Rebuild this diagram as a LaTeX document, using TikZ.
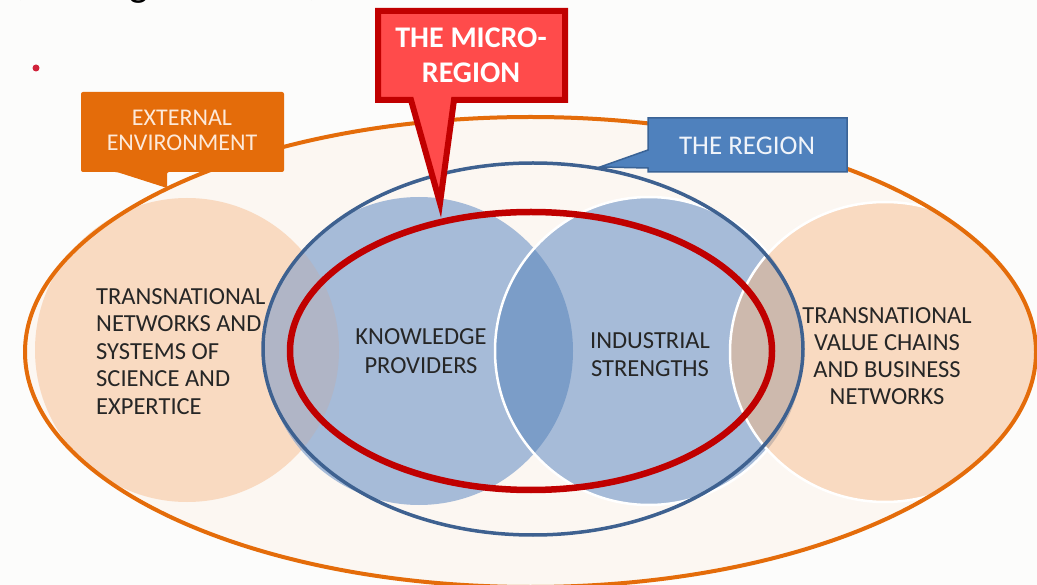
\documentclass[tikz,border=0pt]{standalone}
\usepackage{fontspec}
\setmainfont{Carlito}
\definecolor{bg}{HTML}{FCFCFB}
\definecolor{outerfill}{HTML}{FCF7F2}
\definecolor{orangeline}{HTML}{E46C0A}
\definecolor{peach}{HTML}{F9DAC1}
\definecolor{bluec}{HTML}{A6BBD8}
\definecolor{lens}{HTML}{7B9DC8}
\definecolor{graylap}{HTML}{B0B5C6}
\definecolor{brownlap}{HTML}{CDB9AD}
\definecolor{regionline}{HTML}{3E6190}
\definecolor{microline}{HTML}{C00000}
\definecolor{microfill}{HTML}{FF4B4B}
\definecolor{regionbox}{HTML}{4F81BD}
\definecolor{regionboxline}{HTML}{3A6396}
\definecolor{extbox}{HTML}{E46C0A}
\definecolor{exttext}{HTML}{FDE9D9}
\definecolor{regiontext}{HTML}{F0F4FA}
\definecolor{txt}{HTML}{262626}
\definecolor{bullet}{HTML}{D0223A}
\begin{document}
\begin{tikzpicture}[x=1pt,y=-1pt,
  body/.style={font=\fontsize{24.5}{27.5}\selectfont, text=txt, inner sep=0pt},
  calltext/.style={inner sep=0pt, align=center},
  frag/.style={font=\fontsize{40}{40}\selectfont, text=black, inner sep=0pt, anchor=base}]
\useasboundingbox (0,0) rectangle (1037,585);
\fill[bg] (0,0) rectangle (1037,585);
% title fragments cut off at top
\node[frag] (f1) at (22,-4) {,};
\node[frag] (f2) at (139,-3) {g};
\node[frag] (f3) at (313,-4) {,};
\fill[bullet] (36,68) circle[radius=3.5pt];
% outer environment ellipse fill
\fill[outerfill] (530.5,352) ellipse[x radius=505.5pt, y radius=235pt];
% left peach circle
\fill[peach] (187,350) circle[radius=152pt];
% blue circles
\fill[bluec] (419,351) circle[radius=154pt];
\fill[bluec] (649,351) circle[radius=154pt];
\begin{scope}
  \clip (419,351) circle[radius=154pt];
  \fill[lens] (649,351) circle[radius=154pt];
  \fill[graylap] (187,350) circle[radius=152pt];
\end{scope}
\draw[white, line width=2.5pt] (649,351) circle[radius=154pt];
% right peach, kept inside the outer ellipse
\begin{scope}
  \clip (530.5,352) ellipse[x radius=505.5pt, y radius=235pt];
  \fill[peach] (885,352) ellipse[x radius=155pt, y radius=150pt];
  \begin{scope}
    \clip (649,351) circle[radius=154pt];
    \fill[brownlap] (885,352) ellipse[x radius=155pt, y radius=150pt];
  \end{scope}
  \draw[white, line width=2.5pt] (885,352) ellipse[x radius=155pt, y radius=150pt];
\end{scope}
% outer orange outline
\draw[orangeline, line width=4pt] (530.5,352) ellipse[x radius=505.5pt, y radius=235pt];
% region outline
\draw[regionline, line width=3.5pt] (533,349) ellipse[x radius=270pt, y radius=186pt];
% micro-region ellipse
\draw[microline, line width=6.5pt] (531,351) ellipse[x radius=241pt, y radius=139pt];
% callouts
\fill[extbox, rounded corners=2pt] (81,92) -- (284,92) -- (284,172) -- (167,172) -- (167,188) -- (117,172) -- (81,172) -- cycle;
\node[calltext, text=exttext, font=\fontsize{24}{25}\selectfont, anchor=north] (ext) at (182,110) {EXTERNAL\\ENVIRONMENT};
\draw[regionboxline, fill=regionbox, line width=1.5pt] (648,118) -- (847,118) -- (847,172) -- (648,172) -- (648,168) -- (600,167) -- (648,150) -- cycle;
\node[calltext, text=regiontext, font=\fontsize{27}{27}\selectfont, anchor=north] (reg) at (747,137) {THE REGION};
\draw[microline, fill=microfill, line width=6pt, line join=miter] (378,11) -- (565,11) -- (565,100) -- (454,100) -- (440,203) -- (411,100) -- (378,100) -- cycle;
\node[calltext, text=white, font=\bfseries\fontsize{30}{34.5}\selectfont, anchor=north] (micro) at (471,28) {THE MICRO-\\REGION};
% texts
\node[body, align=left, anchor=north west] (left) at (96,288) {TRANSNATIONAL\\NETWORKS AND\\SYSTEMS OF\\SCIENCE AND\\EXPERTICE};
\node[body, align=center, anchor=north, font=\fontsize{24.5}{27}\selectfont] (right) at (887,307) {TRANSNATIONAL\\VALUE CHAINS\\AND BUSINESS\\NETWORKS};
\node[body, align=center, anchor=north, font=\fontsize{24.5}{29}\selectfont] (kp) at (421,328) {KNOWLEDGE\\PROVIDERS};
\node[body, align=center, anchor=north, font=\fontsize{24.5}{28}\selectfont] (is) at (650,332) {INDUSTRIAL\\STRENGTHS};
\end{tikzpicture}
\end{document}
